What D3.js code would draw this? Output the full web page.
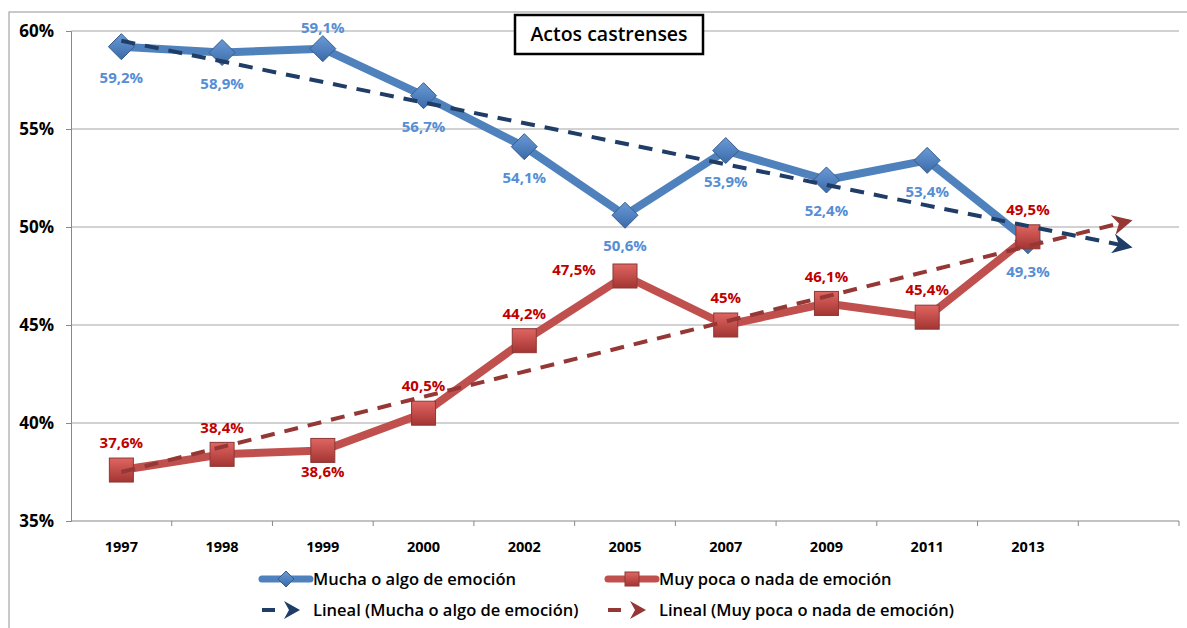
<!DOCTYPE html>
<html>
<head>
<meta charset="utf-8">
<script src="https://cdn.jsdelivr.net/npm/d3@7.9.0/dist/d3.min.js"></script>
<style>
  body { margin: 0; background: #fff; }
  text { font-family: "Open Sans", "Liberation Sans", sans-serif; }
</style>
</head>
<body>
<svg id="chart" width="1187" height="628"></svg>
<script>
const years = ["1997", "1998", "1999", "2000", "2002", "2005", "2007", "2009", "2011", "2013"];
const slots = [...years, "next"];   // extra empty slot used by the trend lines
const mucha = [59.2, 58.9, 59.1, 56.7, 54.1, 50.6, 53.9, 52.4, 53.4, 49.3];
const muy = [37.6, 38.4, 38.6, 40.5, 44.2, 47.5, 45.0, 46.1, 45.4, 49.5];
// trend endpoints (first year, next slot)
const trendMucha = [59.5, 49.0];
const trendMuy = [37.5, 50.3];
const yTicks = [35, 40, 45, 50, 55, 60];
// where each value label sits: b = below, a = above, l = left
const muchaPos = ["b", "b", "a", "b", "b", "b", "b", "b", "b", "b"];
const muyPos = ["a", "a", "b", "a", "a", "l", "a", "a", "a", "a"];

const blue = "#4F81BD", red = "#C0504D";
const blueDark = "#1F3D66", redDark = "#953735";

const svg = d3.select("#chart");
const plotL = 71, plotR = 1179, plotT = 31, plotB = 521;

const x = d3.scalePoint().domain(slots).range([plotL, plotR]).padding(0.5);
const y = d3.scaleLinear().domain([35, 60]).range([plotB, plotT]);
const fmt = v => String(v).replace(".", ",") + "%";

// gradients for the markers
const defs = svg.append("defs");
function grad(id, c1, c2) {
  const g = defs.append("linearGradient").attr("id", id)
    .attr("x1", 0).attr("y1", 0).attr("x2", 0).attr("y2", 1);
  g.append("stop").attr("offset", "0%").attr("stop-color", c1);
  g.append("stop").attr("offset", "100%").attr("stop-color", c2);
}
grad("gBlue", "#6A9AD6", "#3A6AA8");
grad("gRed", "#E06562", "#A33532");
function arrow(id, color) {
  defs.append("marker").attr("id", id)
    .attr("viewBox", "0 0 10 10").attr("refX", 8).attr("refY", 5)
    .attr("markerWidth", 5).attr("markerHeight", 5)
    .attr("orient", "auto")
    .append("path").attr("d", "M0,0 L10,5 L0,10 L3,5 Z").attr("fill", color);
}
arrow("aBlue", blueDark);
arrow("aRed", redDark);

// outer frame
svg.append("rect")
  .attr("x", 9).attr("y", 12).attr("width", 1200).attr("height", 640)
  .attr("fill", "none").attr("stroke", "#A6A6A6").attr("stroke-width", 1.2);

// gridlines
svg.append("g").selectAll("line")
  .data(yTicks.filter(d => d > 35))
  .join("line")
  .attr("x1", plotL).attr("x2", plotR)
  .attr("y1", d => y(d)).attr("y2", d => y(d))
  .attr("stroke", "#A6A6A6").attr("stroke-width", 1.2);

// y axis
const yAxis = svg.append("g").attr("transform", `translate(${plotL},0)`)
  .call(d3.axisLeft(y).tickValues(yTicks).tickSize(5).tickFormat(d => d + "%"));
yAxis.select(".domain").attr("stroke", "#888");
yAxis.selectAll(".tick line").attr("stroke", "#888");
yAxis.selectAll("text").attr("font-size", 17).attr("font-weight", "bold")
  .attr("fill", "#000").attr("x", -17).attr("dy", "0.35em");

// x axis (ticks between categories)
const step = x.step();
const xg = svg.append("g");
xg.append("line").attr("x1", plotL).attr("x2", plotR).attr("y1", plotB).attr("y2", plotB)
  .attr("stroke", "#888").attr("stroke-width", 1.2);
xg.selectAll(".tk").data(slots).join("line").attr("class", "tk")
  .attr("x1", d => x(d) + step / 2).attr("x2", d => x(d) + step / 2)
  .attr("y1", plotB).attr("y2", plotB + 5).attr("stroke", "#888");
xg.selectAll("text").data(years).join("text")
  .attr("x", d => x(d)).attr("y", plotB + 31)
  .attr("text-anchor", "middle").attr("font-size", 14.5).attr("font-weight", "bold")
  .attr("fill", "#000").text(d => d);

// series lines
const line = d3.line().x((d, i) => x(years[i])).y(d => y(d));
svg.append("path").datum(mucha).attr("d", line)
  .attr("fill", "none").attr("stroke", blue).attr("stroke-width", 8).attr("stroke-linejoin", "round");
svg.append("path").datum(muy).attr("d", line)
  .attr("fill", "none").attr("stroke", red).attr("stroke-width", 8).attr("stroke-linejoin", "round");

// markers
svg.append("g").selectAll("path").data(mucha).join("path")
  .attr("transform", (d, i) => `translate(${x(years[i])},${y(d)})`)
  .attr("d", "M0,-13 L13,0 L0,13 L-13,0 Z")
  .attr("fill", "url(#gBlue)").attr("stroke", "#385D8A").attr("stroke-width", 1);
svg.append("g").selectAll("rect").data(muy).join("rect")
  .attr("x", (d, i) => x(years[i]) - 12).attr("y", d => y(d) - 12)
  .attr("width", 24).attr("height", 24)
  .attr("fill", "url(#gRed)").attr("stroke", "#8C3836").attr("stroke-width", 1);

// trend lines
function trend(vals, color, mk) {
  svg.append("line")
    .attr("x1", x(slots[0])).attr("y1", y(vals[0]))
    .attr("x2", x(slots[slots.length - 1])).attr("y2", y(vals[1]))
    .attr("stroke", color).attr("stroke-width", 4)
    .attr("stroke-dasharray", "14,10")
    .attr("marker-end", `url(#${mk})`);
}
trend(trendMucha, blueDark, "aBlue");
trend(trendMuy, redDark, "aRed");

// value labels
function labels(vals, pos, color, off) {
  svg.append("g").selectAll("text").data(vals).join("text")
    .attr("x", (d, i) => x(years[i]) + (pos[i] === "l" ? -51 : 0))
    .attr("y", (d, i) => y(d) + (pos[i] === "b" ? off.b : pos[i] === "a" ? off.a : -6))
    .attr("dy", "0.35em")
    .attr("text-anchor", "middle")
    .attr("font-size", 15).attr("font-weight", "bold")
    .attr("fill", color)
    .text(d => fmt(d));
}
labels(mucha, muchaPos, "#558ED5", { b: 31, a: -21 });
labels(muy, muyPos, "#C00000", { b: 21, a: -27 });

// title
svg.append("rect").attr("x", 515).attr("y", 15).attr("width", 188).attr("height", 39)
  .attr("fill", "#fff").attr("stroke", "#000").attr("stroke-width", 2.5);
svg.append("text").attr("x", 609).attr("y", 34).attr("dy", "0.35em")
  .attr("text-anchor", "middle").attr("font-size", 19.5).attr("font-weight", 600)
  .attr("fill", "#000").text("Actos castrenses");

// legend
const legendItems = [
  { label: "Mucha o algo de emoción", color: blue, kind: "diamond", x: 262, y: 579 },
  { label: "Muy poca o nada de emoción", color: red, kind: "square", x: 608, y: 579 },
  { label: "Lineal (Mucha o algo de emoción)", color: blueDark, kind: "trend", x: 262, y: 610 },
  { label: "Lineal (Muy poca o nada de emoción)", color: redDark, kind: "trend", x: 608, y: 610 }
];
const lg = svg.append("g").selectAll("g").data(legendItems).join("g")
  .attr("transform", d => `translate(${d.x},${d.y})`);
lg.each(function (d) {
  const g = d3.select(this);
  if (d.kind === "trend") {
    g.append("line").attr("x1", 0).attr("x2", 13).attr("y1", 0).attr("y2", 0)
      .attr("stroke", d.color).attr("stroke-width", 4);
    g.append("path").attr("d", "M22,-9 L38,0 L22,9 L27,0 Z").attr("fill", d.color);
  } else {
    g.append("line").attr("x1", 0).attr("x2", 48).attr("y1", 0).attr("y2", 0)
      .attr("stroke", d.color).attr("stroke-width", 7).attr("stroke-linecap", "round");
    if (d.kind === "diamond") {
      g.append("path").attr("d", "M24,-8 L32,0 L24,8 L16,0 Z")
        .attr("fill", "url(#gBlue)").attr("stroke", "#385D8A");
    } else {
      g.append("rect").attr("x", 17).attr("y", -7).attr("width", 14).attr("height", 14)
        .attr("fill", "url(#gRed)").attr("stroke", "#8C3836");
    }
  }
  g.append("text").attr("x", 51).attr("dy", "0.35em")
    .attr("font-size", 16.5).attr("font-weight", 600).attr("fill", "#000")
    .text(d.label);
});
</script>
</body>
</html>
